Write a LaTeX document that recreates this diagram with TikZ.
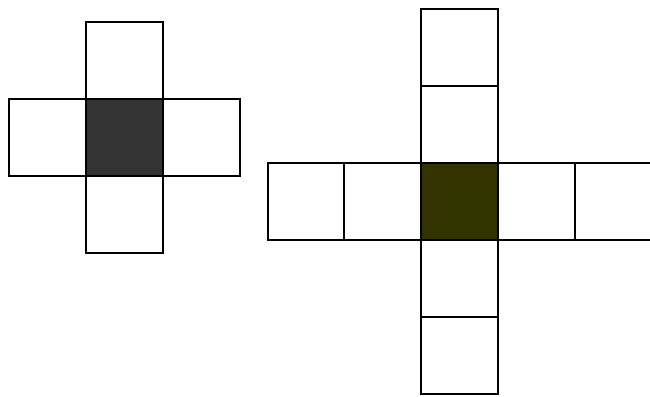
\documentclass[tikz,border=0pt]{standalone}
\begin{document}
\begin{tikzpicture}[x=1pt,y=-1pt,
  cell/.style={draw=black,line width=1.6pt,minimum size=77pt,inner sep=0pt,outer sep=0pt,fill=white},
  centerA/.style={cell,fill={rgb,255:red,51;green,51;blue,51}},
  centerB/.style={cell,fill={rgb,255:red,51;green,51;blue,0}}]
\useasboundingbox (0,0) rectangle (650,396);
\clip (0,0) rectangle (650,396);
% left cross
\node[cell] (lt) at (124.5,60.5) {};
\node[cell] (lb) at (124.5,214.5) {};
\node[cell] (ll) at (47.5,137.5) {};
\node[cell] (lr) at (201.5,137.5) {};
\node[centerA] (lc) at (124.5,137.5) {};
% right cross
\node[cell] (rt2) at (459.5,47.5) {};
\node[cell] (rt1) at (459.5,124.5) {};
\node[cell] (rb1) at (459.5,278.5) {};
\node[cell] (rb2) at (459.5,355.5) {};
\node[cell] (rl2) at (306.2,201.5) {};
\node[cell] (rl1) at (382.7,201.5) {};
\node[cell] (rr1) at (536.5,201.5) {};
\node[cell] (rr2) at (613.5,201.5) {};
\node[centerB] (rc) at (459.5,201.5) {};
\end{tikzpicture}
\end{document}
